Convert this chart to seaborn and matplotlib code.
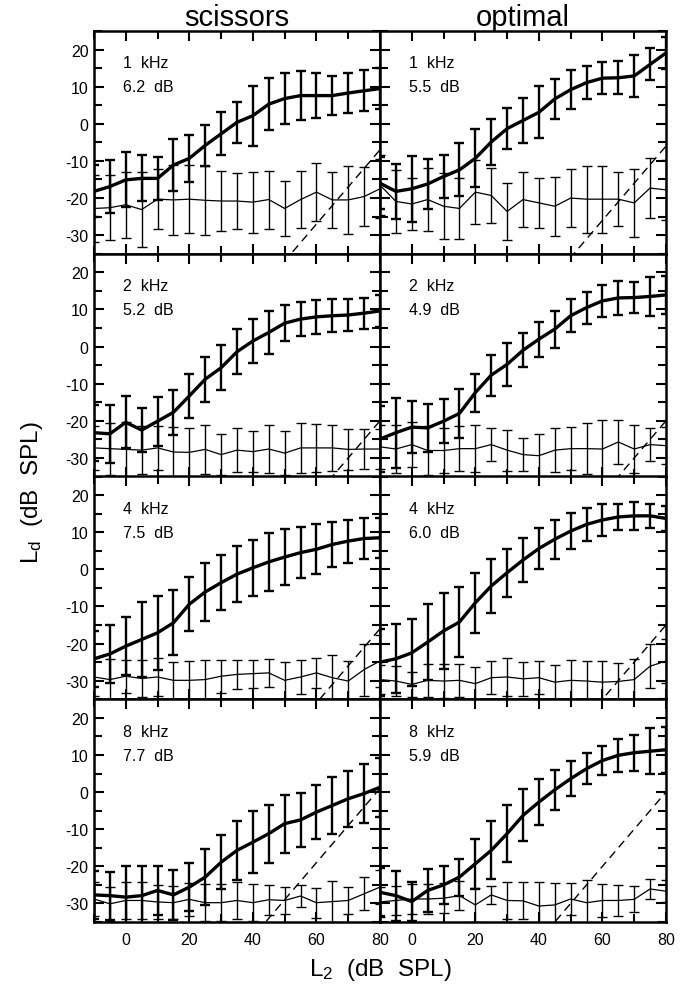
import numpy as np
import pandas as pd
import matplotlib
matplotlib.use("Agg")
import matplotlib.pyplot as plt
import seaborn as sns
from matplotlib.ticker import MultipleLocator

# ---------------- data ----------------
L2 = [-10, -5, 0, 5, 10, 15, 20, 25, 30, 35, 40, 45, 50, 55, 60, 65, 70, 75, 80]
freq_labels = ["1  kHz", "2  kHz", "4  kHz", "8  kHz"]
methods = ["scissors", "optimal"]
db_scissors = ["6.2  dB", "5.2  dB", "7.5  dB", "7.7  dB"]
db_optimal = ["5.5  dB", "4.9  dB", "6.0  dB", "5.9  dB"]

# dashed reference line offsets (Ld = L2 - offset)
dash_offset_scissors = [87, 100, 96, 79]
dash_offset_optimal = [86, 100, 95, 80]

# scissors
sc_1k_sig = [-18.2, -16.9, -15.1, -14.7, -14.7, -11.1, -9.3, -5.8, -2.7, 0.4, 2.2, 5.3, 6.8, 7.6, 7.6, 7.6, 8.3, 8.9, 9.5]
sc_1k_sig_sd = [7.0, 7.2, 7.4, 6.2, 5.8, 7.1, 6.4, 5.5, 5.8, 5.5, 8.1, 7.0, 6.8, 6.7, 6.1, 5.3, 5.4, 5.5, 5.5]
sc_1k_nf = [-22.8, -22.6, -21.8, -23.1, -20.3, -20.5, -20.3, -20.6, -20.8, -20.8, -21.1, -20.4, -22.8, -20.4, -18.4, -20.5, -20.5, -19.6, -17.5]
sc_1k_nf_sd = [9.0, 8.8, 8.9, 10.0, 8.1, 9.5, 9.1, 9.3, 8.1, 7.6, 8.2, 7.8, 7.5, 7.6, 7.8, 7.6, 9.2, 8.0, 8.0]

sc_2k_sig = [-23.2, -23.5, -20.4, -22.5, -20.1, -17.7, -13.3, -8.8, -5.7, -1.4, 1.5, 3.8, 6.3, 7.4, 8.0, 8.3, 8.5, 9.0, 9.6]
sc_2k_sig_sd = [7.5, 7.8, 7.0, 6.0, 6.6, 6.1, 6.0, 6.1, 6.0, 6.0, 6.0, 5.9, 4.9, 4.6, 4.5, 4.5, 4.2, 4.2, 4.2]
sc_2k_nf = [-27.3, -27.5, -27.7, -27.9, -27.3, -28.4, -28.5, -27.7, -29.1, -27.9, -28.3, -27.6, -28.7, -27.3, -27.3, -27.3, -27.7, -27.6, -27.6]
sc_2k_nf_sd = [6.0, 7.0, 7.5, 6.5, 6.0, 6.8, 6.5, 6.7, 5.6, 6.0, 5.5, 6.5, 6.0, 6.8, 6.4, 6.2, 5.5, 5.3, 5.5]

sc_4k_sig = [-24.1, -22.8, -20.7, -18.9, -17.1, -14.4, -9.4, -6.1, -3.6, -1.3, 0.4, 2.0, 3.3, 4.5, 5.4, 6.7, 7.6, 8.3, 8.5]
sc_4k_sig_sd = [7.5, 7.7, 7.9, 10.1, 9.9, 8.8, 7.2, 7.7, 7.4, 7.5, 7.5, 7.8, 7.5, 6.9, 6.7, 6.1, 5.8, 5.4, 5.4]
sc_4k_nf = [-29.0, -29.7, -28.8, -29.4, -29.0, -29.9, -29.9, -29.7, -28.8, -28.3, -28.1, -27.9, -29.9, -29.0, -27.9, -29.2, -30.1, -27.0, -24.7]
sc_4k_nf_sd = [5.0, 5.5, 4.5, 5.0, 5.0, 5.0, 5.2, 5.2, 4.5, 4.0, 3.8, 3.8, 5.0, 4.7, 4.1, 6.0, 5.5, 7.0, 7.0]

sc_8k_sig = [-27.7, -27.9, -28.3, -27.9, -26.5, -27.7, -25.6, -22.9, -18.9, -15.7, -13.5, -11.2, -8.5, -7.5, -5.4, -3.6, -1.8, -0.4, 1.3]
sc_8k_sig_sd = [6.5, 6.5, 8.5, 8.1, 6.7, 6.7, 6.5, 7.6, 7.2, 7.9, 8.4, 7.8, 7.8, 7.3, 7.2, 7.7, 7.5, 7.9, 7.9]
sc_8k_nf = [-28.8, -30.1, -29.2, -29.2, -29.6, -29.8, -28.9, -29.8, -29.8, -29.2, -29.8, -29.0, -29.2, -28.0, -29.8, -29.5, -29.2, -27.4, -25.6]
sc_8k_nf_sd = [4.5, 4.5, 5.0, 5.0, 4.5, 4.5, 4.5, 5.0, 5.0, 5.0, 5.0, 4.0, 3.7, 3.0, 4.0, 5.6, 3.6, 4.5, 4.5]

# optimal
op_1k_sig = [-16.0, -18.2, -17.5, -16.2, -14.2, -12.4, -9.3, -4.9, -1.3, 0.9, 3.1, 6.7, 9.2, 11.1, 12.3, 12.4, 12.9, 16.0, 19.1]
op_1k_sig_sd = [7.0, 7.4, 8.9, 6.8, 5.8, 7.1, 7.8, 6.2, 5.6, 6.0, 7.0, 5.4, 5.2, 4.5, 4.4, 4.4, 5.6, 4.3, 4.3]
op_1k_nf = [-16.5, -20.9, -21.6, -20.4, -22.2, -22.8, -18.4, -19.3, -23.6, -20.4, -21.3, -22.2, -20.0, -20.3, -20.3, -20.3, -21.3, -17.3, -17.8]
op_1k_nf_sd = [8.0, 8.5, 7.1, 8.5, 8.9, 8.2, 8.7, 7.5, 7.6, 7.3, 6.7, 8.0, 7.8, 9.0, 9.0, 7.3, 9.1, 8.0, 8.0]

op_2k_sig = [-24.9, -23.2, -21.7, -21.9, -20.1, -18.0, -12.4, -7.7, -4.8, -1.0, 2.0, 4.7, 8.3, 10.5, 12.3, 13.1, 13.2, 13.5, 13.9]
op_2k_sig_sd = [9.0, 9.4, 7.0, 6.5, 6.0, 6.5, 5.1, 5.5, 5.8, 4.6, 4.7, 5.0, 4.5, 4.3, 4.3, 4.5, 4.2, 5.2, 5.0]
op_2k_nf = [-27.0, -27.6, -26.4, -28.0, -28.0, -27.5, -27.5, -26.4, -27.9, -29.1, -29.4, -27.9, -27.5, -27.5, -27.6, -25.7, -27.6, -26.4, -26.7]
op_2k_nf_sd = [6.0, 6.5, 6.0, 6.5, 6.0, 6.0, 6.3, 4.5, 5.5, 4.5, 5.8, 5.9, 5.7, 6.8, 7.7, 5.8, 6.5, 4.5, 5.0]

op_4k_sig = [-25.0, -24.1, -22.5, -19.6, -16.6, -14.2, -9.0, -4.5, -0.9, 2.5, 5.6, 8.1, 10.3, 12.1, 13.3, 14.1, 14.4, 14.4, 13.7]
op_4k_sig_sd = [9.0, 9.3, 9.0, 10.2, 10.3, 9.5, 8.1, 7.2, 6.5, 5.8, 5.5, 5.2, 4.9, 4.4, 4.2, 3.5, 3.7, 3.3, 3.3]
op_4k_nf = [-29.7, -30.1, -31.0, -29.9, -30.1, -29.9, -30.8, -29.2, -29.0, -29.5, -29.2, -30.4, -29.9, -30.1, -30.4, -30.2, -29.7, -26.1, -24.7]
op_4k_nf_sd = [4.0, 4.0, 3.4, 4.5, 4.5, 4.5, 4.5, 4.4, 5.0, 4.6, 4.5, 4.5, 5.5, 5.3, 5.8, 5.0, 5.6, 6.0, 6.0]

op_8k_sig = [-27.0, -27.9, -29.5, -26.5, -25.0, -22.9, -19.3, -15.7, -11.2, -6.3, -2.7, 0.6, 3.6, 6.3, 8.5, 9.9, 10.6, 11.0, 11.4]
op_8k_sig_sd = [6.5, 6.7, 5.3, 5.7, 5.2, 5.0, 6.7, 7.8, 7.6, 7.0, 6.1, 5.4, 4.7, 4.1, 4.0, 4.4, 4.9, 6.2, 6.2]
op_8k_nf = [-29.6, -29.2, -28.8, -28.8, -28.6, -27.9, -30.4, -27.7, -29.2, -29.3, -30.7, -30.4, -28.8, -29.8, -29.2, -29.2, -28.9, -26.1, -26.7]
op_8k_nf_sd = [4.0, 4.0, 4.0, 4.0, 4.0, 4.0, 4.5, 2.5, 5.0, 5.0, 6.4, 6.0, 4.3, 6.0, 4.4, 4.3, 3.5, 2.8, 3.0]

panels = {
    ("scissors", 0): (sc_1k_sig, sc_1k_sig_sd, sc_1k_nf, sc_1k_nf_sd),
    ("scissors", 1): (sc_2k_sig, sc_2k_sig_sd, sc_2k_nf, sc_2k_nf_sd),
    ("scissors", 2): (sc_4k_sig, sc_4k_sig_sd, sc_4k_nf, sc_4k_nf_sd),
    ("scissors", 3): (sc_8k_sig, sc_8k_sig_sd, sc_8k_nf, sc_8k_nf_sd),
    ("optimal", 0): (op_1k_sig, op_1k_sig_sd, op_1k_nf, op_1k_nf_sd),
    ("optimal", 1): (op_2k_sig, op_2k_sig_sd, op_2k_nf, op_2k_nf_sd),
    ("optimal", 2): (op_4k_sig, op_4k_sig_sd, op_4k_nf, op_4k_nf_sd),
    ("optimal", 3): (op_8k_sig, op_8k_sig_sd, op_8k_nf, op_8k_nf_sd),
}

rows = []
for (m, r), (sig, sig_sd, nf, nf_sd) in panels.items():
    for x, a, b, c, d in zip(L2, sig, sig_sd, nf, nf_sd):
        rows.append(dict(method=m, row=r, L2=x, Ld=a, sd=b, kind="sig"))
        rows.append(dict(method=m, row=r, L2=x, Ld=c, sd=d, kind="nf"))
df = pd.DataFrame(rows)

# ---------------- style ----------------
sns.set_style("ticks")
plt.rcParams['font.family'] = ['Liberation Sans', 'DejaVu Sans']
plt.rcParams['mathtext.fontset'] = 'custom'
plt.rcParams['mathtext.rm'] = 'Liberation Sans'
plt.rcParams['mathtext.it'] = 'Liberation Sans'
plt.rcParams['axes.unicode_minus'] = False
plt.rcParams['text.color'] = 'black'
plt.rcParams['axes.labelcolor'] = 'black'
plt.rcParams['xtick.color'] = 'black'
plt.rcParams['ytick.color'] = 'black'
plt.rcParams['axes.edgecolor'] = 'black'

fig, axes = plt.subplots(4, 2, figsize=(6.88, 9.95), dpi=100, sharex=True, sharey=True)
fig.subplots_adjust(left=94/688, right=666/688, top=1-32/995, bottom=1-923/995,
                    hspace=0, wspace=0)

for c, m in enumerate(methods):
    offsets = dash_offset_scissors if m == "scissors" else dash_offset_optimal
    dbs = db_scissors if m == "scissors" else db_optimal
    for r in range(4):
        ax = axes[r, c]
        sub = df[(df.method == m) & (df.row == r)]
        sig = sub[sub.kind == "sig"]
        nf = sub[sub.kind == "nf"]
        ax.errorbar(nf.L2, nf.Ld, yerr=nf.sd, fmt='none', ecolor='black',
                    elinewidth=1.0, capsize=3.6, capthick=1.0, zorder=2)
        ax.errorbar(sig.L2, sig.Ld, yerr=sig.sd, fmt='none', ecolor='black',
                    elinewidth=1.7, capsize=3.6, capthick=1.7, zorder=2)
        sns.lineplot(data=nf, x="L2", y="Ld", color="black", linewidth=0.9,
                     errorbar=None, ax=ax, legend=False, zorder=3)
        sns.lineplot(data=sig, x="L2", y="Ld", color="black", linewidth=2.4,
                     errorbar=None, ax=ax, legend=False, zorder=4)
        ref = np.array(L2, dtype=float) - offsets[r]
        ax.plot(L2, ref, color="black", lw=1.0, ls=(0, (6, 4)), zorder=3)

        ax.text(0.10, 0.857, freq_labels[r], transform=ax.transAxes,
                fontsize=11.5, va='center', ha='left', color='black')
        ax.text(0.10, 0.749, dbs[r], transform=ax.transAxes,
                fontsize=11.5, va='center', ha='left', color='black')

        ax.set_xlim(-10, 80)
        ax.set_ylim(-35, 25)
        ax.xaxis.set_major_locator(MultipleLocator(20))
        ax.xaxis.set_minor_locator(MultipleLocator(10))
        ax.yaxis.set_major_locator(MultipleLocator(10))
        ax.yaxis.set_minor_locator(MultipleLocator(5))
        ax.tick_params(which='both', direction='in', top=True, right=True,
                       width=1.5, labelsize=11.5, colors='black')
        ax.tick_params(which='major', length=7)
        ax.tick_params(which='minor', length=6)
        ax.tick_params(axis='y', pad=4)
        ax.tick_params(axis='x', pad=7)
        for s in ax.spines.values():
            s.set_linewidth(1.8)
            s.set_color('black')
        ax.set_xlabel("")
        ax.set_ylabel("")
        if r == 0:
            ax.set_title(m, fontsize=21, pad=3, color='black')

fig.text(0.047, 0.505, r'L$_\mathrm{d}$  (dB  SPL)', rotation=90,
         fontsize=17.5, ha='center', va='center', color='black')
fig.text(0.553, 0.025, r'L$_\mathrm{2}$  (dB  SPL)', fontsize=17.5,
         ha='center', va='center', color='black')

fig.savefig("out.png", dpi=100)
